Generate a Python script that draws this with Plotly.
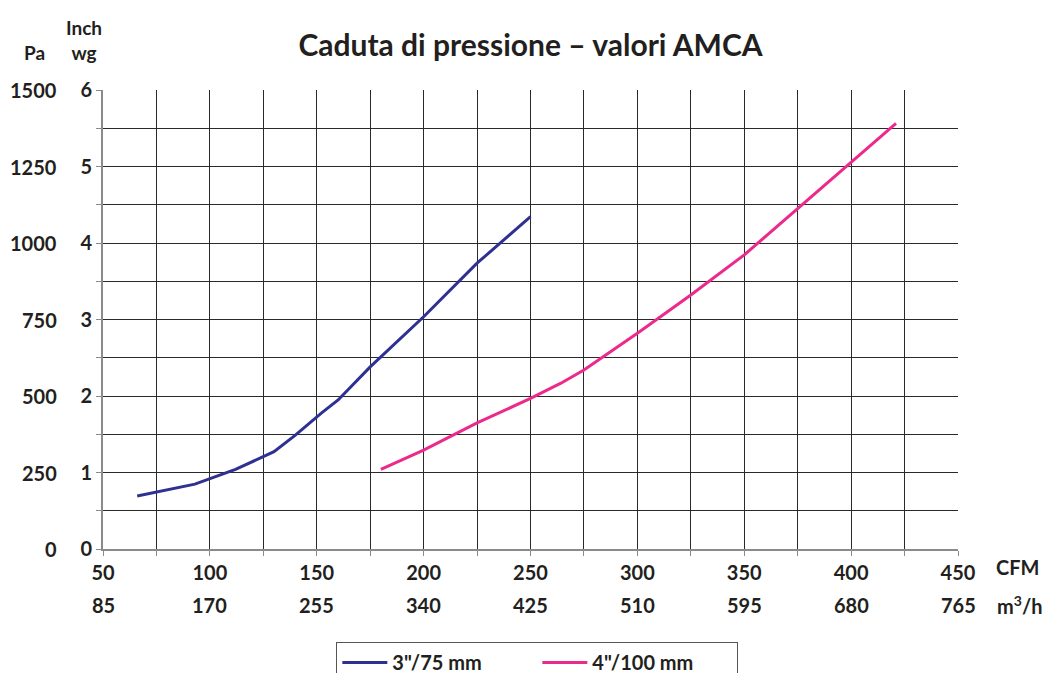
import plotly.graph_objects as go

# ---- data ----
cfm_3in = [66, 93, 112, 130, 140, 152, 160, 175, 200, 225, 250]
pa_3in = [173, 212, 260, 318, 372, 443, 487, 595, 759, 934, 1086]

cfm_4in = [180, 200, 225, 250, 264, 275, 300, 325, 350, 375, 400, 421]
pa_4in = [260, 323, 412, 492, 541, 585, 705, 830, 961, 1113, 1265, 1391]

series_names = ['3"/75 mm', '4"/100 mm']
series_colors = ["#2E3192", "#EC2A8C"]

x_cfm_ticks = [50, 100, 150, 200, 250, 300, 350, 400, 450]
x_m3h_labels = ["85", "170", "255", "340", "425", "510", "595", "680", "765"]

y_pa_ticks = [0, 250, 500, 750, 1000, 1250, 1500]
y_inch_labels = ["0", "1", "2", "3", "4", "5", "6"]

title_text = "Caduta di pressione – valori AMCA"

FONT = "Lato"
TXT = "#231F20"
TS = 20

W, H = 1046, 673

fig = go.Figure()
fig.add_trace(go.Scatter(x=cfm_3in, y=pa_3in, mode="lines", name=series_names[0],
                         line=dict(color=series_colors[0], width=3)))
fig.add_trace(go.Scatter(x=cfm_4in, y=pa_4in, mode="lines", name=series_names[1],
                         line=dict(color=series_colors[1], width=3)))

# x grid every 25, labels every 50
x_vals = list(range(50, 451, 25))
x_text = [str(v) if v in x_cfm_ticks else "" for v in x_vals]
y_vals = list(range(0, 1501, 125))
y_text = []
for v in y_vals:
    if v in y_pa_ticks:
        y_text.append(y_inch_labels[y_pa_ticks.index(v)])
    else:
        y_text.append("")

fig.update_xaxes(range=[50, 450], tickmode="array", tickvals=x_vals, ticktext=x_text,
                 showgrid=True, gridcolor="#2a2a2a", gridwidth=1,
                 showline=True, linecolor="#8a8a8a", linewidth=2,
                 ticks="outside", ticklen=5, tickcolor="#8a8a8a",
                 tickfont=dict(family=FONT, size=TS, color=TXT, weight="bold"),
                 zeroline=False, fixedrange=True, automargin=False)
fig.update_yaxes(range=[0, 1500], tickmode="array", tickvals=y_vals, ticktext=y_text,
                 showgrid=True, gridcolor="#2a2a2a", gridwidth=1,
                 showline=True, linecolor="#8a8a8a", linewidth=2,
                 ticks="outside", ticklen=5, tickcolor="#8a8a8a",
                 tickfont=dict(family=FONT, size=TS, color=TXT, weight="bold"),
                 zeroline=False, fixedrange=True, automargin=False)

annots = []
# Pa column
for v in y_pa_ticks:
    annots.append(dict(x=0, xref="paper", y=v, yref="y", text=str(v), showarrow=False,
                       xanchor="right", yanchor="middle", xshift=-44,
                       font=dict(family=FONT, size=TS, color=TXT, weight="bold")))
# m3/h row
for v, t in zip(x_cfm_ticks, x_m3h_labels):
    annots.append(dict(x=v, xref="x", y=0, yref="paper", text=t, showarrow=False,
                       xanchor="center", yanchor="middle", yshift=-56,
                       font=dict(family=FONT, size=TS, color=TXT, weight="bold")))
# unit labels
annots.append(dict(x=1, xref="paper", y=0, yref="paper", text="CFM", showarrow=False,
                   xanchor="left", yanchor="middle", xshift=36, yshift=-18,
                   font=dict(family=FONT, size=TS, color=TXT, weight="bold")))
annots.append(dict(x=1, xref="paper", y=0, yref="paper", text="m<sup>3</sup>/h", showarrow=False,
                   xanchor="left", yanchor="middle", xshift=37, yshift=-56,
                   font=dict(family=FONT, size=TS, color=TXT, weight="bold")))
annots.append(dict(x=0, xref="paper", y=1, yref="paper", text="Pa", showarrow=False,
                   xanchor="center", yanchor="middle", xshift=-69, yshift=38,
                   font=dict(family=FONT, size=19, color=TXT, weight="bold")))
annots.append(dict(x=0, xref="paper", y=1, yref="paper", text="Inch<br>wg", showarrow=False,
                   xanchor="center", yanchor="middle", xshift=-19, yshift=50,
                   font=dict(family=FONT, size=19, color=TXT, weight="bold")))

fig.update_layout(
    width=W, height=H,
    margin=dict(l=103, r=88, t=90, b=124),
    paper_bgcolor="white", plot_bgcolor="white",
    title=dict(text=title_text, x=0.5, xref="paper", xanchor="center",
               y=1 - 45 / H, yref="container", yanchor="middle",
               font=dict(family=FONT, size=30, color=TXT, weight="bold")),
    legend=dict(orientation="h", x=0.508, xanchor="center",
                y=1 - 642 / H, yref="container", yanchor="top",
                bordercolor="#555555", borderwidth=1, bgcolor="white",
                font=dict(family=FONT, size=20, color=TXT, weight="bold"),
                itemwidth=45, entrywidth=140),
    annotations=annots,
    showlegend=True,
)

fig.write_html(
    "out.html",
    config={"displayModeBar": False},
    post_script="document.body.style.margin='0';document.body.style.overflow='hidden';",
)
